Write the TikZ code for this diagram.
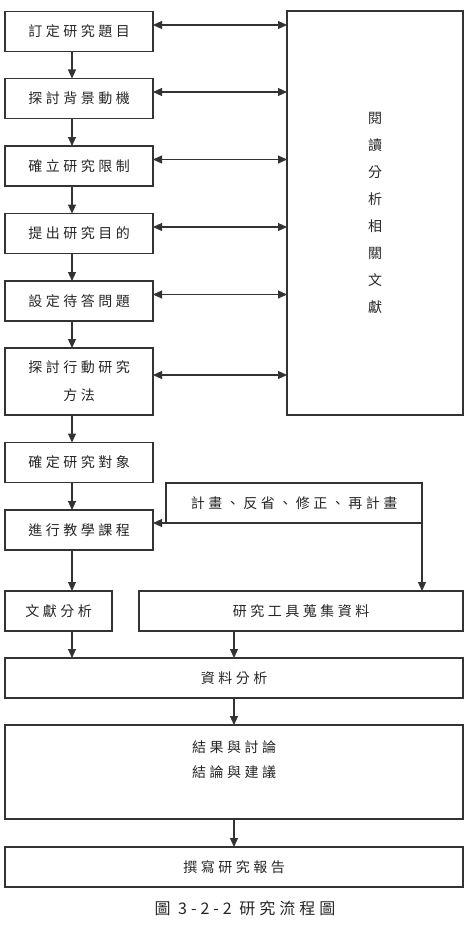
\documentclass[tikz,border=0pt]{standalone}
\usepackage{fontspec}
\newfontfamily\cjk[LetterSpace=25]{Noto Sans CJK TC}
\newfontfamily\cjkplain{Noto Sans CJK TC}
\usetikzlibrary{arrows.meta}

\begin{document}
\begin{tikzpicture}[x=1pt, y=-1pt,
  box/.style={draw=black!80, line width=1.2pt, inner sep=0pt, outer sep=0pt,
    minimum height=40pt, align=center, text=black!85,
    font=\cjk\fontsize{14}{28}\selectfont},
  flow/.style={draw=black!80, line width=1.1pt, -{Triangle[length=9pt,width=8pt]}},
  both/.style={flow, {Triangle[length=9pt,width=8pt]}-{Triangle[length=9pt,width=8pt]}}]
  \useasboundingbox (0,0) rectangle (469,947);

  % Left column
  \node[box, minimum width=148pt] (topic)   at (79,31.5)  {訂定研究題目};
  \node[box, minimum width=148pt] (motive)  at (79,98.5)  {探討背景動機};
  \node[box, minimum width=148pt] (limit)   at (79,166)   {確立研究限制};
  \node[box, minimum width=148pt] (purpose) at (79,233.5) {提出研究目的};
  \node[box, minimum width=148pt] (question) at (79,301)  {設定待答問題};
  \node[box, minimum width=148pt, minimum height=67pt] (method) at (79,381.5) {探討行動研究\\方法};
  \node[box, minimum width=148pt] (subject) at (79,462.5) {確定研究對象};
  \node[box, minimum width=148pt] (course)  at (79,530)   {進行教學課程};

  % Literature box on the right
  \node[box, minimum width=176pt, minimum height=404pt,
    font=\cjkplain\fontsize{14}{27}\selectfont] (reading) at (375,213)
    {閱\\讀\\分\\析\\相\\關\\文\\獻};

  % Action cycle
  \node[box, minimum width=256pt] (cycle) at (294,503) {計畫、反省、修正、再計畫};

  % Data
  \node[box, minimum width=107pt] (litana) at (58.5,611) {文獻分析};
  \node[box, minimum width=324pt] (tools)  at (301,611)  {研究工具蒐集資料};
  \node[box, minimum width=458pt] (data)   at (234,678)  {資料分析};
  \node[box, minimum width=458pt, minimum height=94pt] (result) at (234,772) {};
  \node[font=\cjk\fontsize{14}{25}\selectfont, align=center, text=black!85]
    (resulttext) at (234,760) {結果與討論\\結論與建議};
  \node[box, minimum width=458pt] (report) at (234,867) {撰寫研究報告};

  % Caption
  \node[font=\cjk\fontsize{16}{18}\selectfont, text=black!85] (caption)
    at (245,908) {圖 3-2-2 研究流程圖};

  % Main flow
  \draw[flow] ([xshift=-7pt]topic.south) -- ([xshift=-7pt]motive.north);
  \draw[flow] ([xshift=-7pt]motive.south) -- ([xshift=-7pt]limit.north);
  \draw[flow] ([xshift=-7pt]limit.south) -- ([xshift=-7pt]purpose.north);
  \draw[flow] ([xshift=-7pt]purpose.south) -- ([xshift=-7pt]question.north);
  \draw[flow] ([xshift=-7pt]question.south) -- ([xshift=-7pt]method.north);
  \draw[flow] ([xshift=-7pt]method.south) -- ([xshift=-7pt]subject.north);
  \draw[flow] ([xshift=-7pt]subject.south) -- ([xshift=-7pt]course.north);
  \draw[flow] ([xshift=-7pt]course.south) -- ([xshift=-7pt]course.south |- litana.north);
  \draw[flow] ([xshift=-7pt]course.south |- litana.south) -- ([xshift=-7pt]course.south |- data.north);

  % Links to the literature box
  \foreach \n in {topic, motive, limit, purpose, question, method}
    \draw[both] ([yshift=6.5pt]\n.east) -- ([yshift=6.5pt]\n.east -| reading.west);

  % Cycle links
  \draw[flow] (cycle.south west) -- (cycle.south west -| course.east);
  \draw[flow] (cycle.south east) -- (cycle.south east |- tools.north);

  % Lower flow
  \draw[flow] (tools.south -| data.north) -- (data.north);
  \draw[flow] (data.south) -- (result.north);
  \draw[flow] (result.south) -- (report.north);
\end{tikzpicture}
\end{document}
